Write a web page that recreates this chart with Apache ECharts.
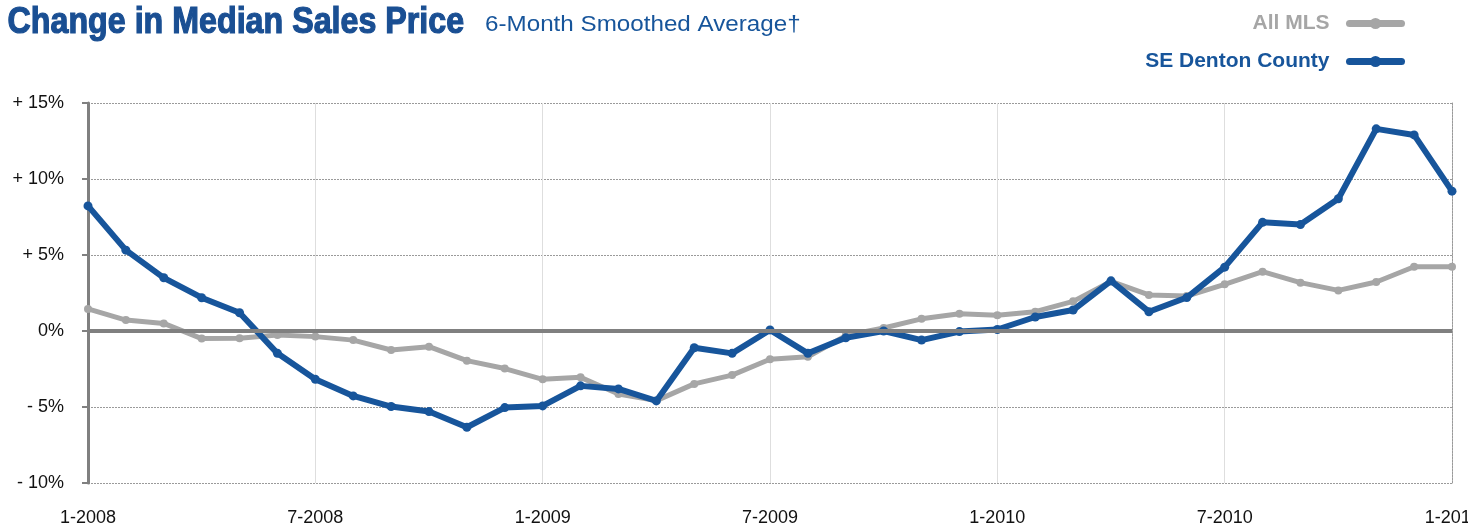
<!DOCTYPE html>
<html>
<head>
<meta charset="utf-8">
<script src="https://cdn.jsdelivr.net/npm/echarts@6/dist/echarts.min.js"></script>
<style>
html,body{margin:0;padding:0;background:#fff;}
#chart{width:1468px;height:525px;}
</style>
</head>
<body>
<div id="chart"></div>
<script>
const categories = [
  "1-2008","2-2008","3-2008","4-2008","5-2008","6-2008","7-2008","8-2008","9-2008","10-2008","11-2008","12-2008",
  "1-2009","2-2009","3-2009","4-2009","5-2009","6-2009","7-2009","8-2009","9-2009","10-2009","11-2009","12-2009",
  "1-2010","2-2010","3-2010","4-2010","5-2010","6-2010","7-2010","8-2010","9-2010","10-2010","11-2010","12-2010",
  "1-2011"
];
const allMLS = [
  1.45, 0.72, 0.5, -0.5, -0.48, -0.26, -0.37, -0.6, -1.25, -1.03, -1.95, -2.47,
  -3.18, -3.05, -4.14, -4.58, -3.48, -2.9, -1.86, -1.7, -0.3, 0.2, 0.8, 1.14,
  1.03, 1.27, 1.95, 3.26, 2.37, 2.3, 3.07, 3.9, 3.18, 2.67, 3.22, 4.23,
  4.23
];
const seDenton = [
  8.23, 5.32, 3.5, 2.19, 1.2, -1.47, -3.18, -4.27, -4.97, -5.3, -6.33, -5.04,
  -4.93, -3.61, -3.81, -4.6, -1.1, -1.47, 0.07, -1.47, -0.45, 0.0, -0.6, -0.04,
  0.1, 0.92, 1.38, 3.3, 1.27, 2.2, 4.2, 7.15, 7.0, 8.7, 13.3, 12.9,
  9.2
];
const yTickLabels = {"-10":"- 10%","-5":"- 5%","0":"0%","5":"+ 5%","10":"+ 10%","15":"+ 15%"};

const BLUE = "#17559b";
const TITLE_BLUE = "#1a4f93";
const GRAY = "#a6a6a6";
const FONT = "'Liberation Sans', Arial, Helvetica, sans-serif";

const chart = echarts.init(document.getElementById('chart'), null, {renderer:'canvas'});
chart.setOption({
  animation: false,
  backgroundColor: '#fff',
  graphic: [
    {
      type: 'text', left: 7, top: 4, scaleX: 0.895,
      style: {
        text: 'Change in Median Sales Price',
        font: "bold 36px 'Liberation Sans', Arial, sans-serif",
        fill: TITLE_BLUE, stroke: TITLE_BLUE, lineWidth: 1.2
      }
    },
    {
      type: 'text', left: 485, top: 14, scaleX: 1.1,
      style: {
        text: '6-Month Smoothed Average†',
        font: "22px 'Liberation Sans', Arial, sans-serif",
        fill: BLUE
      }
    }
  ],
  legend: {
    orient: 'vertical',
    right: 58, top: 8,
    align: 'right',
    itemWidth: 52, itemHeight: 14,
    itemGap: 17,
    lineStyle: {width: 7, cap: 'round'},
    textStyle: {fontFamily: FONT, fontWeight: 'bold', fontSize: 21, padding: [0, 15, 0, 0]},
    data: [
      {name: 'All MLS', textStyle: {color: GRAY}},
      {name: 'SE Denton County', textStyle: {color: BLUE}}
    ]
  },
  grid: {left: 88, right: 16, top: 103, bottom: 42, containLabel: false, outerBoundsMode: 'none'},
  xAxis: {
    type: 'category',
    data: categories,
    boundaryGap: false,
    axisLine: {show: false},
    axisTick: {show: false},
    axisLabel: {interval: 5, fontFamily: FONT, fontSize: 18, color: '#111', margin: 26},
    splitLine: {show: true, interval: 5, lineStyle: {color: '#dedede', width: 1}}
  },
  yAxis: [
    {
      type: 'value',
      min: -10, max: 15, interval: 5,
      axisLine: {show: true, lineStyle: {color: '#808080', width: 3}},
      axisTick: {show: true, length: 6, lineStyle: {color: '#808080', width: 2}},
      axisLabel: {fontFamily: FONT, fontSize: 18, color: '#111', margin: 24,
        formatter: v => yTickLabels[String(v)]},
      splitLine: {show: true, lineStyle: {color: '#9a9a9a', width: 1, type: [2, 1]}}
    },
    {
      type: 'value', position: 'right',
      min: -10, max: 15, interval: 5,
      axisLine: {show: true, lineStyle: {color: '#9a9a9a', width: 1, type: [2, 1]}},
      axisTick: {show: false},
      axisLabel: {show: false},
      splitLine: {show: false}
    }
  ],
  series: [
    {
      name: 'zero', type: 'line', data: [], z: 1,
      markLine: {
        silent: true, symbol: 'none', label: {show: false},
        lineStyle: {color: '#808080', width: 4, type: 'solid'},
        data: [{yAxis: 0}]
      }
    },
    {
      name: 'All MLS', type: 'line', data: allMLS, z: 2,
      color: GRAY,
      lineStyle: {color: GRAY, width: 5, cap: 'round', join: 'round'},
      itemStyle: {color: GRAY},
      symbol: 'circle', symbolSize: 8
    },
    {
      name: 'SE Denton County', type: 'line', data: seDenton, z: 3,
      color: BLUE,
      lineStyle: {color: BLUE, width: 6, cap: 'round', join: 'round'},
      itemStyle: {color: BLUE},
      symbol: 'circle', symbolSize: 9
    }
  ]
});
</script>
</body>
</html>
